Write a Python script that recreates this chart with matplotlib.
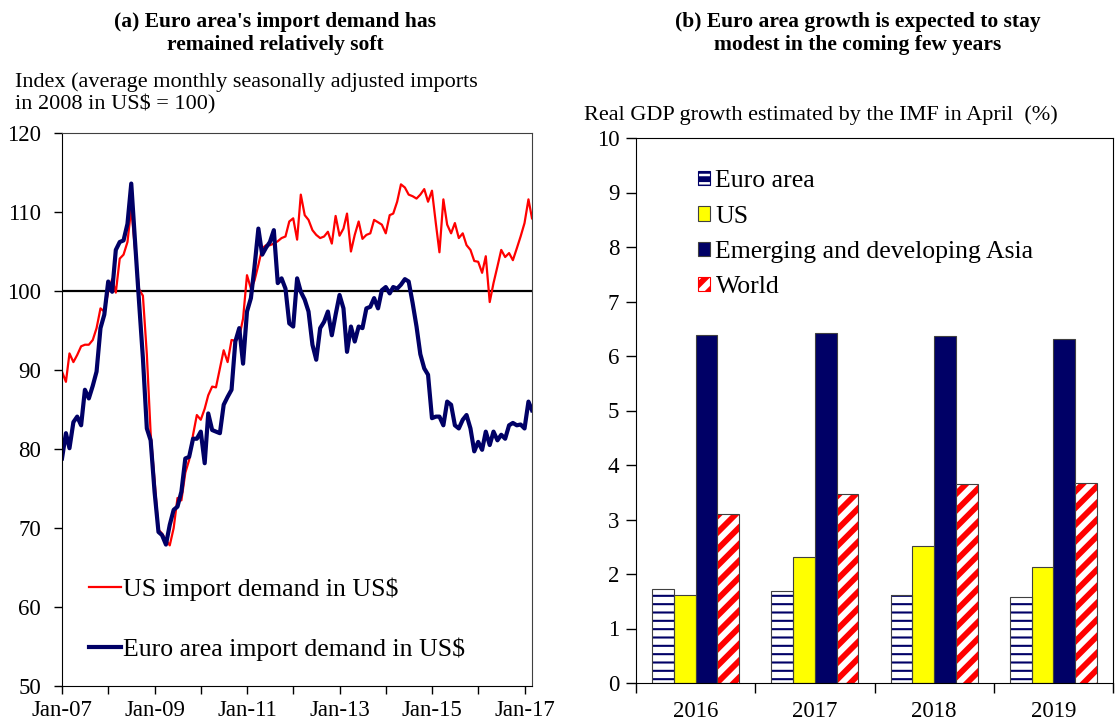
import matplotlib

matplotlib.use("Agg")
import matplotlib.dates as mdates
import matplotlib.pyplot as plt
import numpy as np
import pandas as pd
from matplotlib.patches import Patch

plt.rcParams["font.family"] = ["Liberation Serif", "DejaVu Serif"]

# ---- panel (a): monthly import demand index, Jan-07 .. Mar-17 ----
months = pd.date_range("2007-01-01", periods=123, freq="MS")

us_import = [
    89.8, 88.5, 92.1, 91.0, 91.9, 93.0, 93.2, 93.2, 93.8, 95.3, 97.8, 97.4,
    99.9, 101.5, 99.8, 104.1, 104.6, 106.2, 110.5, 105.0, 100.2, 99.4, 92.0, 82.0,
    76.0, 69.8, 69.3, 68.5, 67.8, 70.0, 73.8, 73.5, 77.0, 78.6, 81.8, 84.3,
    83.7, 85.1, 86.8, 87.9, 87.8, 90.2, 92.5, 91.0, 93.8, 93.7, 94.2, 96.5,
    102.0, 100.3, 101.3, 103.3, 105.4, 105.8, 105.8, 106.0, 106.3, 106.7, 106.9, 108.8,
    109.2, 106.5, 112.2, 109.6, 109.0, 107.7, 107.1, 106.7, 106.9, 107.5, 106.0, 109.5,
    107.0, 107.9, 109.8, 105.0, 107.1, 108.8, 106.6, 107.1, 107.3, 109.0, 108.7, 108.4,
    107.3, 109.6, 109.8, 111.3, 113.5, 113.1, 112.2, 112.0, 111.7, 112.2, 112.9, 111.3,
    112.7, 108.5, 104.9, 111.6, 108.4, 107.3, 108.6, 106.7, 107.3, 105.8, 105.2, 103.8,
    103.7, 102.3, 104.4, 98.6, 101.0, 103.1, 105.2, 104.3, 104.8, 103.9, 105.4, 106.9,
    108.6, 111.6, 109.2,
]

euro_import = [
    78.8, 82.0, 80.1, 83.4, 84.1, 83.0, 87.5, 86.4, 88.0, 89.8, 95.3, 97.0,
    101.2, 99.9, 105.2, 106.2, 106.4, 108.5, 113.6, 106.0, 98.5, 91.5, 82.6, 81.1,
    74.6, 69.5, 69.1, 67.9, 70.4, 72.3, 72.7, 74.6, 78.8, 79.0, 81.3, 81.3,
    82.2, 78.2, 84.5, 82.4, 82.2, 82.0, 85.6, 86.6, 87.5, 93.6, 95.3, 90.8,
    97.4, 99.1, 103.0, 107.9, 104.6, 105.5, 106.2, 107.7, 101.0, 101.6, 100.3, 95.9,
    95.5, 101.6, 99.9, 98.9, 97.4, 93.2, 91.3, 95.3, 96.1, 97.4, 94.4, 97.0,
    99.5, 97.8, 92.3, 95.5, 93.6, 95.5, 95.3, 97.8, 98.0, 99.1, 97.8, 100.1,
    100.5, 99.7, 100.5, 100.3, 100.8, 101.5, 101.2, 98.5, 95.5, 92.0, 90.2, 89.4,
    83.9, 84.1, 84.1, 83.0, 86.0, 85.6, 83.0, 82.6, 83.7, 84.3, 82.6, 79.7,
    80.9, 79.9, 82.2, 80.5, 82.2, 81.1, 81.8, 81.3, 83.0, 83.3, 83.0, 83.1,
    82.6, 86.0, 84.9,
]

# ---- panel (b): IMF real GDP growth (%) ----
years = ["2016", "2017", "2018", "2019"]
gdp_euro = [1.73, 1.68, 1.62, 1.58]
gdp_us = [1.61, 2.31, 2.52, 2.12]
gdp_asia = [6.38, 6.43, 6.36, 6.32]
gdp_world = [3.11, 3.46, 3.65, 3.67]

RED = "#ff0000"
NAVY = "#000066"
YELLOW = "#ffff00"
FRAME = "#404040"

W, H = 1116, 720
fig = plt.figure(figsize=(W / 100, H / 100), dpi=100)


def fig_rect(left, top, right, bottom):
    return [left / W, 1 - bottom / H, (right - left) / W, (bottom - top) / H]


def fig_text(x, y, s, **kwargs):
    fig.text(x / W, 1 - y / H, s, **kwargs)


# ---------------- panel (a) ----------------
ax1 = fig.add_axes(fig_rect(62, 133, 532, 686))
ax1.plot(months, us_import, color=RED, linewidth=1.6, label="US import demand in US$")
ax1.plot(months, euro_import, color=NAVY, linewidth=3.0, label="Euro area import demand in US$")
ax1.axhline(100, color="black", linewidth=1.6, zorder=1)

ax1.set_xlim(months[0], months[-1])
ax1.set_ylim(50, 120)
ax1.set_yticks(np.arange(50, 121, 10))
ax1.set_xticks(pd.date_range("2007-01-01", "2017-01-01", freq="24MS"))
ax1.set_xticks(pd.date_range("2008-01-01", "2016-01-01", freq="24MS"), minor=True)
ax1.xaxis.set_major_formatter(mdates.DateFormatter("%b-%y"))
ax1.tick_params(which="both", direction="out", length=6, width=1, color="black")
ax1.tick_params(axis="x", which="major", labelsize=16.5, pad=4)
ax1.tick_params(axis="y", labelsize=16.5, pad=9)
for side in ("top", "right"):
    ax1.spines[side].set_color(FRAME)
for side in ("left", "bottom"):
    ax1.spines[side].set_color("black")

ax1.legend(
    loc="lower left",
    bbox_to_anchor=(0.058, 0.046),
    frameon=False,
    fontsize=18.5,
    handlelength=1.25,
    handletextpad=0.06,
    labelspacing=1.42,
    borderpad=0,
    borderaxespad=0,
)

fig_text(275, 22, "(a) Euro area's import demand has", ha="center", va="center",
         fontsize=15.5, fontweight="bold")
fig_text(275, 45, "remained relatively soft", ha="center", va="center",
         fontsize=15.5, fontweight="bold")
fig_text(15, 82, "Index (average monthly seasonally adjusted imports",
         ha="left", va="center", fontsize=16)
fig_text(15, 104, "in 2008 in US$ = 100)", ha="left", va="center", fontsize=16)

# ---------------- panel (b) ----------------
ax2 = fig.add_axes(fig_rect(636, 138, 1113, 683))
x = np.arange(len(years))
bw = 0.182
offsets = np.array([-1.5, -0.5, 0.5, 1.5]) * bw

plt.rcParams["hatch.linewidth"] = 1.5
euro_bars = ax2.bar(x + offsets[0], gdp_euro, bw, facecolor="white", edgecolor=NAVY,
                    hatch="--", linewidth=0)
ax2.bar(x + offsets[1], gdp_us, bw, facecolor=YELLOW, edgecolor=FRAME, linewidth=0.8)
ax2.bar(x + offsets[2], gdp_asia, bw, facecolor=NAVY, edgecolor=FRAME, linewidth=0.8)
plt.rcParams["hatch.linewidth"] = 4.2
world_bars = ax2.bar(x + offsets[3], gdp_world, bw, facecolor="white", edgecolor=RED,
                     hatch="//", linewidth=0)
for bar in euro_bars:
    if hasattr(bar, "set_hatch_linewidth"):
        bar.set_hatch_linewidth(1.5)
for bar in world_bars:
    if hasattr(bar, "set_hatch_linewidth"):
        bar.set_hatch_linewidth(4.2)
# thin outlines on top of the hatched bars
ax2.bar(x + offsets[0], gdp_euro, bw, fill=False, edgecolor=FRAME, linewidth=0.8)
ax2.bar(x + offsets[3], gdp_world, bw, fill=False, edgecolor=FRAME, linewidth=0.8)

ax2.set_xlim(-0.5, len(years) - 0.5)
ax2.set_ylim(0, 10)
ax2.set_yticks(np.arange(0, 11, 1))
ax2.set_xticks(np.arange(len(years) + 1) - 0.5)
ax2.set_xticklabels([])
ax2.set_xticks(x, minor=True)
ax2.set_xticklabels(years, minor=True)
ax2.tick_params(which="major", direction="out", length=7, width=1)
ax2.tick_params(axis="x", which="minor", length=0, labelsize=16.5, pad=13)
ax2.tick_params(axis="y", labelsize=16.5, pad=5)
for side in ("top", "right", "left", "bottom"):
    ax2.spines[side].set_color("black")

legend_handles = [
    Patch(facecolor="white", edgecolor=NAVY, hatch="--", linewidth=0.8),
    Patch(facecolor=YELLOW, edgecolor=FRAME, linewidth=0.8),
    Patch(facecolor=NAVY, edgecolor=FRAME, linewidth=0.8),
    Patch(facecolor="white", edgecolor=RED, hatch="//", linewidth=0.8),
]
ax2.legend(
    legend_handles,
    ["Euro area", "US", "Emerging and developing Asia", "World"],
    loc="upper left",
    bbox_to_anchor=(0.13, 0.941),
    frameon=False,
    fontsize=18.5,
    handlelength=0.48,
    handleheight=0.48,
    handletextpad=0.2,
    labelspacing=0.52,
    borderpad=0,
    borderaxespad=0,
)

fig_text(858, 22, "(b) Euro area growth is expected to stay", ha="center", va="center",
         fontsize=15.5, fontweight="bold")
fig_text(858, 45, "modest in the coming few years", ha="center", va="center",
         fontsize=15.5, fontweight="bold")
fig_text(584, 115, "Real GDP growth estimated by the IMF in April  (%)",
         ha="left", va="center", fontsize=16)

fig.savefig("out.png", dpi=100)
